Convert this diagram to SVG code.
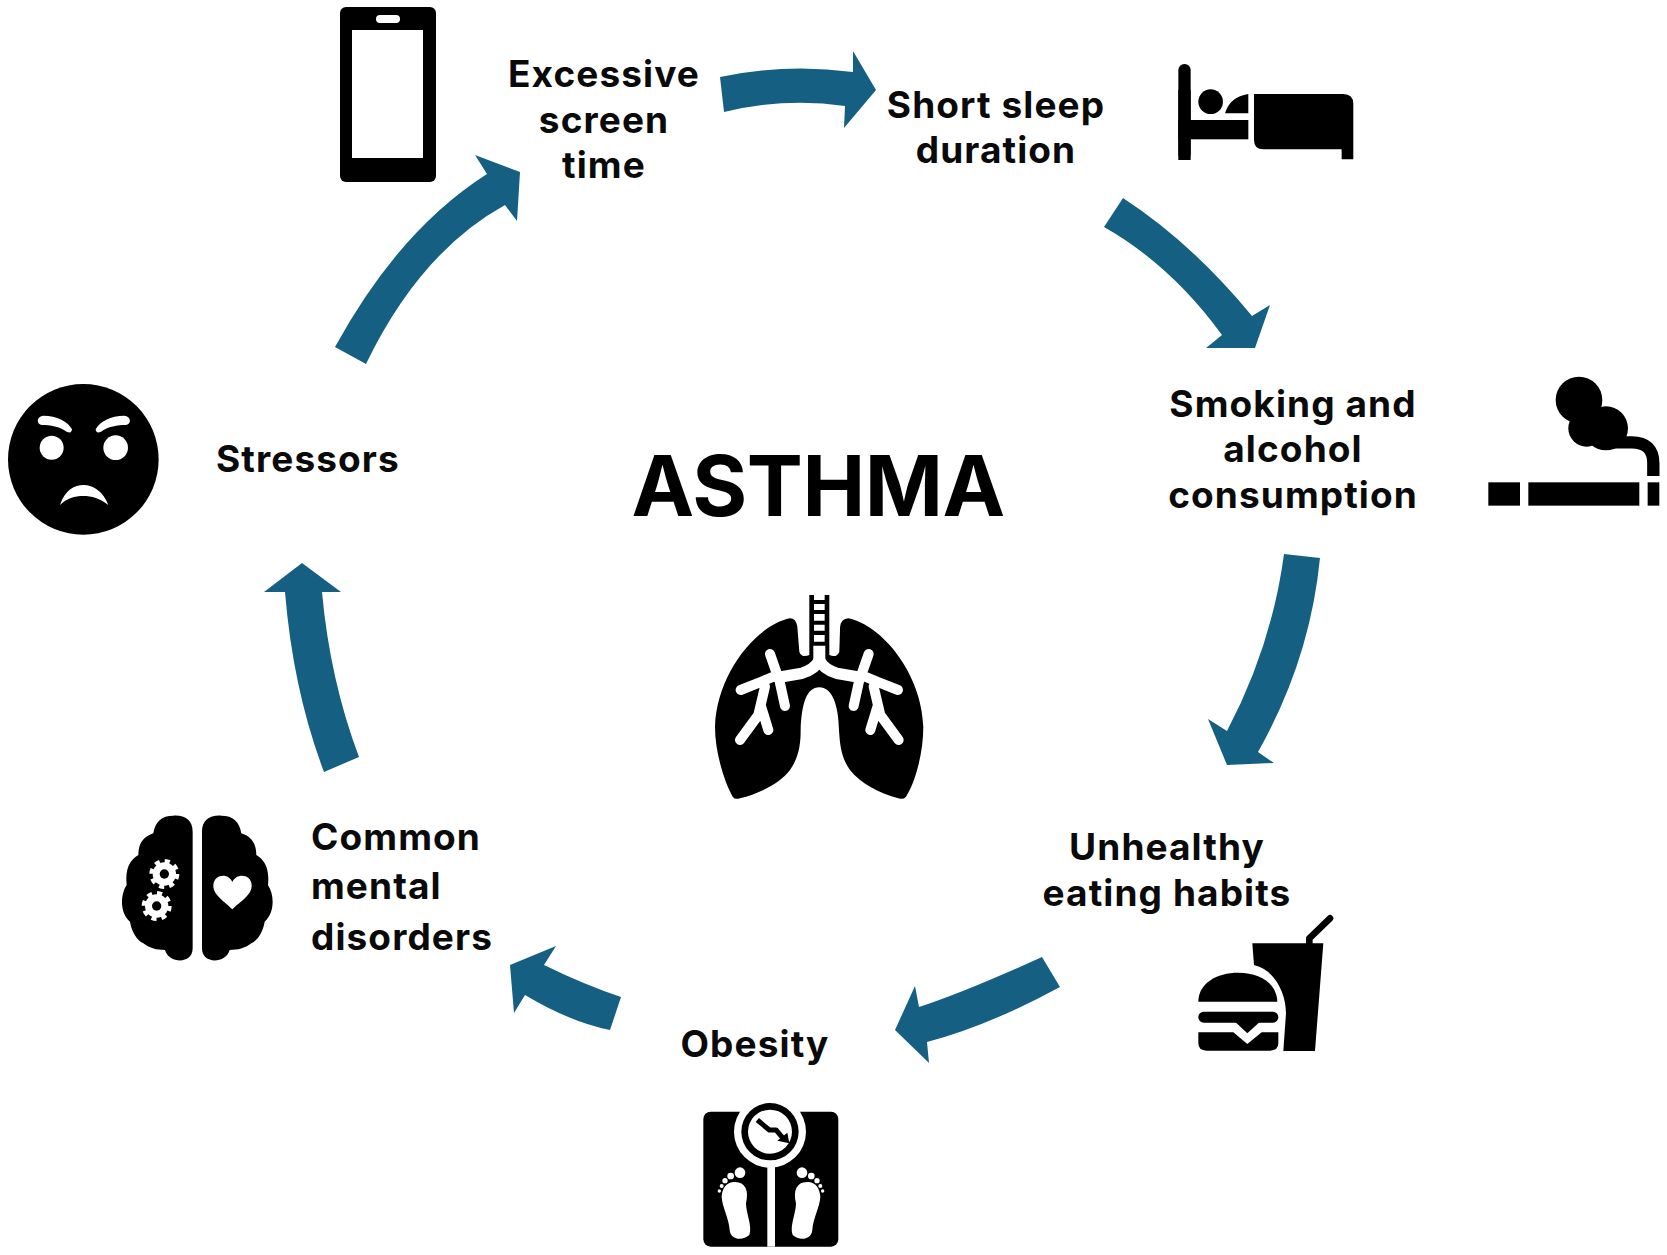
<svg xmlns="http://www.w3.org/2000/svg" width="1667" height="1255" viewBox="0 0 1667 1255">
<style>
.t{font-family:"Inter","Liberation Sans",sans-serif;font-weight:700;font-size:37px;fill:#0a0a0a;text-anchor:middle;letter-spacing:1.1px}
.l{text-anchor:start}
.a{fill:#156082}
.k{fill:#000}
.w{fill:#fff}
.ws{fill:none;stroke:#fff;stroke-linecap:round;stroke-linejoin:round}
</style>
<defs>
<g id="gear"><circle r="35" class="w"/><circle r="38" fill="none" stroke="#fff" stroke-width="14" stroke-dasharray="15 14.85"/><circle r="14" class="k"/></g>
<path id="brainhalf" d="M248 95C248 60 225 45 190 47C155 47 135 65 130 100C100 110 85 130 85 165C60 180 45 205 50 255C30 285 30 340 60 365C65 395 80 420 100 430C120 445 140 450 165 450C175 490 248 495 248 445Z"/>
<g id="foot"><path class="w" d="M130 276C165 273 178 300 168 340C168 370 188 410 178 435C160 452 122 452 119 420C117 385 96 350 95 320C97 295 108 278 130 276Z"/><circle class="w" cx="150" cy="248" r="16"/><circle class="w" cx="122" cy="258" r="10"/><circle class="w" cx="105" cy="272" r="8"/><circle class="w" cx="95" cy="288" r="6"/><circle class="w" cx="88" cy="303" r="5"/></g>
<g id="bronchi"><path class="ws" stroke-width="34" d="M388 240Q375 268 335 280L265 292"/><path class="ws" stroke-width="30" d="M240 222L262 285M262 285L215 305L152 330M268 300L285 378M225 320L205 405L150 480M212 375L235 450"/></g>
</defs>
<rect width="1667" height="1255" fill="#fff"/>
<g id="connectors">
<path class="a" d="M720 77Q786 63 853 72L853 51L876 90L844 128L845 106Q786 97 724 112Z"/>
<path class="a" d="M1123 198Q1192 243 1252 316L1270 305L1255 348L1206 348L1222 335Q1171 265 1104 227Z"/>
<path class="a" d="M1320 558Q1310 660 1258 752L1274 763L1227 765L1208 719L1227 731Q1272 645 1284 554Z"/>
<path class="a" d="M1042 957Q965 992 919 1007L915 986L895 1030L929 1063L927 1042Q988 1026 1060 987Z"/>
<path class="a" d="M621 997Q585 985 544 965L556 946L510 965L514 1013L525 995Q570 1022 610 1030Z"/>
<path class="a" d="M324 772Q293 690 285 592L264 592L302 563L341 592L322 592Q330 680 359 757Z"/>
<path class="a" d="M335 347Q399 230 487 174L475 155L520 172L517 221L505 205Q420 252 366 364Z"/>
</g>
<g id="title"><text class="t" x="818" y="516" style="font-size:84px;letter-spacing:-.5px;fill:#000">ASTHMA</text></g>
<g id="node-screen">
<rect x="340" y="7" width="96" height="175" rx="6" class="k"/><rect x="352" y="30" width="71" height="128" class="w"/><rect x="376" y="15" width="24" height="8" rx="4" class="w"/>
<text class="t" x="604" y="87">Excessive</text><text class="t" x="604" y="133">screen</text><text class="t" x="604" y="178">time</text>
</g>
<g id="node-sleep">
<g transform="translate(1170 50) scale(.3333)"><rect x="25" y="42" width="37" height="288" rx="18" class="k"/><rect x="25" y="210" width="210" height="58" class="k"/><rect x="25" y="120" width="37" height="210" class="k"/><circle cx="122" cy="155" r="37" class="k"/><path class="k" d="M165 190Q180 140 235 132L235 190Z"/><path class="k" d="M252 132L520 132Q550 132 550 162L550 328L515 328L515 298L280 298Q252 298 252 270Z"/></g>
<text class="t" x="996" y="118">Short sleep</text><text class="t" x="996" y="163">duration</text>
</g>
<g id="node-smoking">
<g transform="translate(1480 360) scale(.3333)"><rect x="25" y="367" width="95" height="70" class="k"/><rect x="145" y="367" width="333" height="70" class="k"/><rect x="503" y="367" width="35" height="70" class="k"/><circle cx="297" cy="120" r="70" class="k"/><circle cx="378" cy="205" r="66" class="k"/><circle cx="320" cy="205" r="55" class="k"/><path class="k" d="M340 170L400 260L300 240Z"/><path d="M390 247H455Q520 247 520 310V348" fill="none" stroke="#000" stroke-width="37"/></g>
<text class="t" x="1293" y="417">Smoking and</text><text class="t" x="1293" y="462">alcohol</text><text class="t" x="1293" y="508">consumption</text>
</g>
<g id="node-eating">
<g transform="translate(1180 900) scale(.3333)"><path class="k" d="M217 130H430L405 453H310L318 340C318 280 285 210 222 195Z"/><path d="M388 130V115L450 55" fill="none" stroke="#000" stroke-width="20" stroke-linecap="round" stroke-linejoin="round"/><path class="k" d="M55 305C55 250 110 218 175 218C240 218 290 250 292 305Z"/><rect x="55" y="335" width="240" height="33" rx="16" class="k"/><path class="k" d="M165 365L202 400L240 365Z"/><path class="k" d="M55 397H160L202 432L245 397H295V430Q295 452 270 452H80Q55 452 55 430Z"/></g>
<text class="t" x="1167" y="860">Unhealthy</text><text class="t" x="1167" y="906">eating habits</text>
</g>
<g id="node-obesity">
<text class="t" x="755" y="1057">Obesity</text>
<g transform="translate(690 1090) scale(.3333)"><rect x="40" y="65" width="405" height="405" rx="22" class="k"/><rect x="232" y="200" width="23" height="270" class="w"/><circle cx="240" cy="125" r="108" class="w"/><circle cx="240" cy="125" r="86" class="k"/><circle cx="240" cy="125" r="66" class="w"/><path d="M202 90L238 120H258L282 148" fill="none" stroke="#000" stroke-width="15" stroke-linejoin="round"/><path class="k" d="M298 160L262 152L292 128Z"/><use href="#foot"/><use href="#foot" transform="translate(486 0) scale(-1 1)"/></g>
</g>
<g id="node-mental">
<g transform="translate(110 800) scale(.3333)"><use href="#brainhalf" class="k"/><use href="#brainhalf" class="k" transform="translate(524 0) scale(-1 1)"/><use href="#gear" transform="translate(163 222)"/><use href="#gear" transform="translate(140 318)"/><path class="w" d="M367 328C345 305 308 285 310 255C313 222 355 218 367 246C380 218 423 222 425 255C427 285 390 305 367 328Z"/></g>
<text class="t l" x="311" y="850">Common</text><text class="t l" x="311" y="899">mental</text><text class="t l" x="311" y="950">disorders</text>
</g>
<g id="node-stressors">
<g transform="translate(0 370) scale(.3333)"><circle cx="250" cy="268" r="226" class="k"/><circle cx="155" cy="233" r="36" class="w"/><circle cx="347" cy="233" r="37" class="w"/><path class="w" d="M113 152Q115 138 130 137C170 137 205 155 216 178Q215 192 200 185C180 170 150 165 125 165Q115 163 113 152Z"/><path class="w" d="M390 152Q388 138 373 137C333 137 298 155 287 178Q288 192 303 185C323 170 353 165 378 165Q388 163 390 152Z"/><path class="w" d="M180 405C195 360 225 345 250 345C280 345 310 365 325 405C300 385 275 378 250 378C225 378 200 385 180 405Z"/></g>
<text class="t l" x="216" y="472">Stressors</text>
</g>
<g id="lungs" transform="translate(690 580) scale(.3333)">
<path class="k" d="M300 115C200 135 80 280 75 440C75 520 105 610 128 650Q135 660 150 655C210 640 270 610 300 570C328 530 332 490 332 450C335 370 350 322 388 322C425 322 445 370 447 450C450 500 455 535 480 570C510 610 570 640 625 655Q640 660 648 650C675 610 700 520 700 440C695 280 575 135 475 115C455 118 450 130 450 150L448 215Q440 235 418 225V45H358V225Q335 235 328 215L322 140Q318 115 300 115Z"/>
<path class="w" d="M372 45H404V60H372ZM372 72H404V90H372ZM372 102H404V122H372ZM372 134H404V152H372ZM372 165H404V185H372Z"/>
<path class="w" d="M370 197H406V240L392 262H384L370 240Z"/>
<use href="#bronchi"/><use href="#bronchi" transform="translate(776 0) scale(-1 1)"/>
</g>
</svg>
